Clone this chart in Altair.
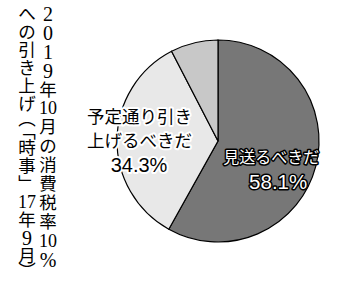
import altair as alt
import pandas as pd

# Survey answers (share of respondents, %)
categories = ["見送るべきだ", "予定通り引き上げるべきだ", "その他・わからない"]
label_lines = [["見送るべきだ"], ["予定通り引き", "上げるべきだ"], []]
shares = [58.1, 34.3, 7.6]
fills = ["#777777", "#e8e8e8", "#c8c8c8"]

# Vertical title, two columns read right to left
title_right = ["2", "0", "1", "9", "年", "10", "月", "の", "消", "費", "税", "率", "10", "%"]
title_left = ["へ", "の", "引", "き", "上", "げ", "︵", "﹁", "時", "事", "﹂", "17", "年", "9", "月", "︶"]

CX, CY, R = 218, 141, 101
SANS = "Liberation Sans, Noto Sans CJK JP"
SERIF = "Liberation Serif, Noto Sans CJK JP"

pie_df = pd.DataFrame({
    "category": categories,
    "share": shares,
    "idx": list(range(len(categories))),
    "name": ["\n".join(lines) for lines in label_lines],
    "value": [f"{v}%" if lines else "" for lines, v in zip(label_lines, shares)],
})

# Lay out vertical title glyphs: brackets take a narrower cell,
# Latin digits are set a little larger to match the kanji height
narrow = {"︵": 0.7, "﹁": 0.75, "﹂": 1.0, "︶": 0.7}
rows = []
for col_x, tokens, cell, top in [(48, title_right, 18.9, 5.5), (27, title_left, 18.0, 6.0)]:
    pos = top
    for t in tokens:
        adv = narrow.get(t, 1.0) * cell
        if t.isascii():
            fs = 18 if len(t) == 2 else 20
        else:
            fs = 17.5
        rows.append({"tok": t, "px": col_x, "py": pos + adv / 2, "fs": fs})
        pos += adv
title_df = pd.DataFrame(rows)

base = alt.Chart(pie_df).encode(
    theta=alt.Theta("share:Q", stack=True),
    order=alt.Order("idx:Q"),
)

arcs = base.mark_arc(outerRadius=R, stroke="black", strokeWidth=1.2, x=CX, y=CY).encode(
    color=alt.Color("category:N", scale=alt.Scale(domain=categories, range=fills), legend=None)
)


def slice_text(cat, field, radius, dx, dy, size, face, halo, halo_w):
    txt = alt.condition(alt.datum.category == cat, alt.Text(f"{field}:N"), alt.value(""))
    common = dict(radius=radius, x=CX, y=CY, dx=dx, dy=dy, font=SANS, fontSize=size,
                  lineHeight=24, lineBreak="\n", align="center", baseline="middle")
    under = base.mark_text(fill=halo, stroke=halo, strokeWidth=halo_w,
                           strokeJoin="round", **common).encode(text=txt)
    over = base.mark_text(fill=face, **common).encode(text=txt)
    return under + over


dark_name = slice_text(categories[0], "name", 57, -2, 2.5, 16, "white", "black", 3)
dark_value = slice_text(categories[0], "value", 57, 5, 28, 20.5, "white", "black", 3)
light_name = slice_text(categories[1], "name", 78, -0.5, -22, 17.5, "black", "white", 4)
light_value = slice_text(categories[1], "value", 78, -1, 26, 20, "black", "white", 4)

title = alt.Chart(title_df).mark_text(
    font=SERIF, color="black", align="center", baseline="middle"
).encode(
    x=alt.X("px:Q", scale=None, axis=None),
    y=alt.Y("py:Q", scale=None, axis=None),
    size=alt.Size("fs:Q", scale=None, legend=None),
    text="tok:N",
)

chart = alt.layer(arcs, dark_name, dark_value, light_name, light_value, title).properties(
    width=350, height=281, padding=0,
    autosize=alt.AutoSizeParams(type="none"),
    background="white",
).configure_view(stroke=None)

chart.save("out.html", embed_options={"renderer": "svg", "actions": False})
